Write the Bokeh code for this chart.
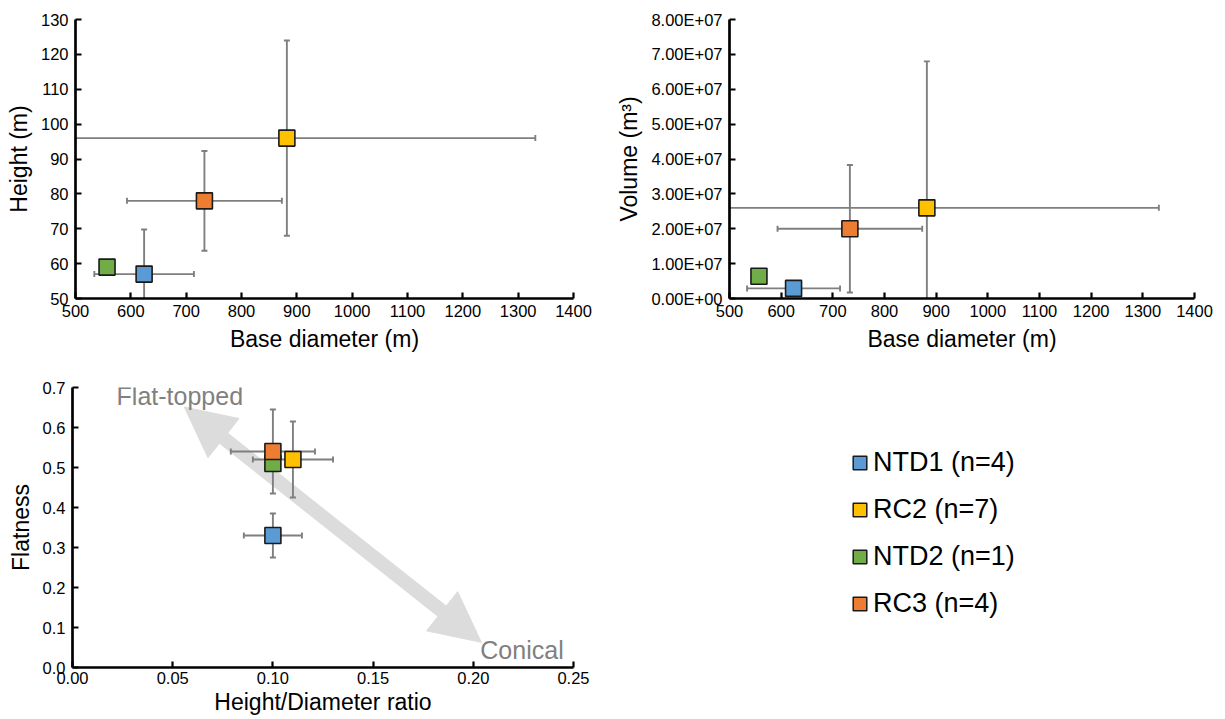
import math
from bokeh.plotting import figure
from bokeh.layouts import column, row
from bokeh.models import (Range1d, FixedTicker, NumeralTickFormatter, CustomJSTickFormatter,
                          Arrow, NormalHead, Label, Legend, LegendItem)
from bokeh.embed import file_html
from bokeh.resources import INLINE

# ---------------- data ----------------
groups = ["NTD1 (n=4)", "RC2 (n=7)", "NTD2 (n=1)", "RC3 (n=4)"]
colors = ["#5b9bd5", "#ffc000", "#70ad47", "#ed7d31"]

base_diam = [624, 882, 557, 733]
base_diam_err = [90, 449, 0, 140]

height_m = [57, 96, 59, 78]
height_err = [12.8, 28, 0, 14.3]

volume = [2.9e6, 2.6e7, 6.4e6, 2.0e7]
volume_err = [1.5e6, 4.2e7, 0, 1.83e7]

hd_ratio = [0.100, 0.110, 0.100, 0.100]
hd_ratio_err = [0.0145, 0.020, 0, 0.021]
flatness = [0.33, 0.52, 0.51, 0.54]
flatness_err = [0.055, 0.095, 0, 0.105]

x_ticks_diam = list(range(500, 1401, 100))
y_ticks_height = list(range(50, 131, 10))
y_ticks_volume = [i * 1e7 for i in range(0, 9)]
x_ticks_ratio = [0.0, 0.05, 0.10, 0.15, 0.20, 0.25]
y_ticks_flat = [0.0, 0.1, 0.2, 0.3, 0.4, 0.5, 0.6, 0.7]

FONT = "Liberation Sans"
ERR = "#7f7f7f"


def style(p, xlabel, ylabel):
    p.toolbar_location = None
    p.outline_line_color = None
    p.xgrid.grid_line_color = None
    p.ygrid.grid_line_color = None
    p.background_fill_color = "white"
    p.border_fill_color = "white"
    for ax in (p.xaxis[0], p.yaxis[0]):
        ax.axis_line_width = 2.7
        ax.axis_line_color = "black"
        ax.major_tick_line_width = 2.2
        ax.major_tick_line_color = "black"
        ax.major_tick_in = 6
        ax.major_tick_out = 0
        ax.minor_tick_line_color = None
        ax.major_label_text_font = FONT
        ax.major_label_text_font_size = "16.5px"
        ax.major_label_text_color = "black"
        ax.axis_label_text_font = FONT
        ax.axis_label_text_font_size = "23px"
        ax.axis_label_text_font_style = "normal"
        ax.axis_label_text_color = "black"
        ax.axis_label_standoff = 6
    p.xaxis[0].major_label_standoff = 6
    p.yaxis[0].major_label_standoff = 7
    p.xaxis[0].axis_label = xlabel
    p.yaxis[0].axis_label = ylabel


def draw(p, xs, xe, ys, ye):
    # error bars
    for i in range(len(xs)):
        if xe[i] > 0:
            p.segment(x0=[xs[i] - xe[i]], y0=[ys[i]], x1=[xs[i] + xe[i]], y1=[ys[i]],
                      line_color=ERR, line_width=1.9)
            p.scatter(x=[xs[i] - xe[i], xs[i] + xe[i]], y=[ys[i], ys[i]], marker="dash",
                      angle=math.pi / 2, size=6, line_color=ERR, line_width=1.9)
        if ye[i] > 0:
            p.segment(x0=[xs[i]], y0=[ys[i] - ye[i]], x1=[xs[i]], y1=[ys[i] + ye[i]],
                      line_color=ERR, line_width=1.9)
            p.scatter(x=[xs[i], xs[i]], y=[ys[i] - ye[i], ys[i] + ye[i]], marker="dash",
                      size=6, line_color=ERR, line_width=1.9)
    for i in range(len(xs)):
        p.scatter(x=[xs[i]], y=[ys[i]], marker="square", size=16,
                  fill_color=colors[i], line_color="#1a1a1a", line_width=1.6)


# ---------------- panel 1 ----------------
p1 = figure(width=605, height=355, output_backend="svg", toolbar_location=None,
            x_range=Range1d(500, 1400), y_range=Range1d(50, 130),
            min_border_left=75, min_border_right=32, min_border_top=19, min_border_bottom=57)
style(p1, "Base diameter (m)", "Height (m)")
p1.xaxis.ticker = FixedTicker(ticks=x_ticks_diam)
p1.yaxis.ticker = FixedTicker(ticks=y_ticks_height)
draw(p1, base_diam, base_diam_err, height_m, height_err)

# ---------------- panel 2 ----------------
p2 = figure(width=618, height=355, output_backend="svg", toolbar_location=None,
            x_range=Range1d(500, 1400), y_range=Range1d(0, 8e7),
            min_border_left=124, min_border_right=29, min_border_top=19, min_border_bottom=57)
style(p2, "Base diameter (m)", "Volume (m³)")
p2.xaxis.ticker = FixedTicker(ticks=x_ticks_diam)
p2.yaxis.ticker = FixedTicker(ticks=y_ticks_volume)
p2.yaxis.formatter = CustomJSTickFormatter(code="""
    let s = tick.toExponential(2).toUpperCase();
    s = s.replace(/E([+-])(\\d)$/, 'E$10$2');
    return s;
""")
draw(p2, base_diam, base_diam_err, volume, volume_err)

# ---------------- panel 3 ----------------
p3 = figure(width=605, height=364, output_backend="svg", toolbar_location=None,
            x_range=Range1d(0, 0.25), y_range=Range1d(0, 0.7),
            min_border_left=72, min_border_right=32, min_border_top=32, min_border_bottom=52)
style(p3, "Height/Diameter ratio", "Flatness")
p3.xaxis.ticker = FixedTicker(ticks=x_ticks_ratio)
p3.yaxis.ticker = FixedTicker(ticks=y_ticks_flat)
p3.xaxis.formatter = NumeralTickFormatter(format="0.00")
p3.yaxis.formatter = NumeralTickFormatter(format="0.0")
p3.xaxis.axis_label_standoff = 2
p3.xaxis.major_label_standoff = 4

AR = "#dcdcdc"
arrow = Arrow(x_start=0.204, y_start=0.063, x_end=0.0558, y_end=0.651,
              start=NormalHead(size=50, fill_color=AR, line_color=AR),
              end=NormalHead(size=50, fill_color=AR, line_color=AR),
              line_width=14, line_color=AR, level="underlay")
p3.add_layout(arrow)
p3.add_layout(Label(x=0.022, y=0.679, text="Flat-topped", text_font=FONT,
                    text_font_size="25px", text_color="#808080", text_baseline="alphabetic"))
p3.add_layout(Label(x=0.2035, y=0.045, text="Conical", text_font=FONT,
                    text_font_size="25px", text_color="#808080", text_baseline="alphabetic"))
draw(p3, hd_ratio, hd_ratio_err, flatness, flatness_err)

# ---------------- legend panel ----------------
p4 = figure(width=618, height=364, output_backend="svg", toolbar_location=None,
            x_range=Range1d(0, 1), y_range=Range1d(0, 1),
            x_axis_location=None, y_axis_location=None,
            min_border_left=186, min_border_right=0, min_border_top=32, min_border_bottom=52)
p4.outline_line_color = None
p4.xgrid.grid_line_color = None
p4.ygrid.grid_line_color = None
nan = float("nan")
items = []
for g, c in zip(groups, colors):
    r = p4.quad(left=[nan], right=[nan], top=[nan], bottom=[nan], fill_color=c,
                line_color="#1a1a1a", line_width=1.5)
    items.append(LegendItem(label=g, renderers=[r]))
legend = Legend(items=items, location="top_left", border_line_color=None,
                background_fill_alpha=0, padding=0, margin=60,
                glyph_width=17, glyph_height=17, label_standoff=5,
                label_text_font=FONT, label_text_font_size="27px", label_text_color="black",
                label_height=20, spacing=16)
p4.add_layout(legend)

layout = column(row(p1, p2), row(p3, p4))
open("out.html", "w").write(file_html(layout, INLINE))
